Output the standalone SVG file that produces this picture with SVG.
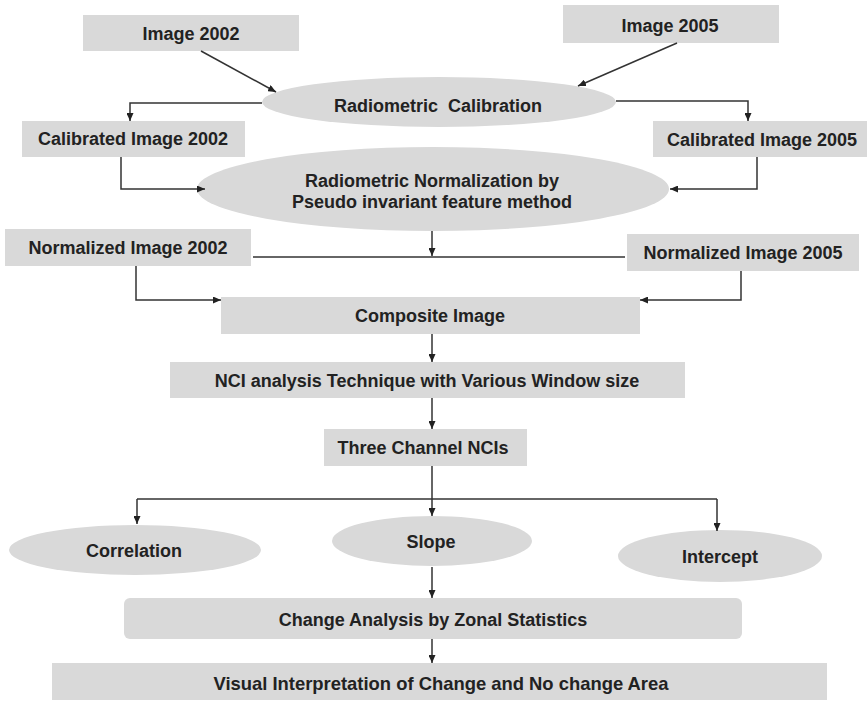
<svg xmlns="http://www.w3.org/2000/svg" width="867" height="701" viewBox="0 0 867 701">
  <style>
    .box { fill: #d9d9d9; }
    .lbl { font-family: "Liberation Sans", Arial, sans-serif; font-weight: bold; font-size: 18px; fill: #222; text-anchor: middle; }
    .wire { fill: none; stroke: #333; stroke-width: 1.5; }
    .arr { marker-end: url(#head); }
  </style>
  <defs>
    <marker id="head" markerUnits="userSpaceOnUse" markerWidth="8" markerHeight="7" refX="8" refY="3.5" orient="auto">
      <path d="M0,0 L8,3.5 L0,7 z" fill="#222"/>
    </marker>
  </defs>
  <rect width="867" height="701" fill="#fff"/>

  <g id="img2002">
    <rect class="box" x="83" y="15" width="216" height="36"/>
    <text class="lbl" x="191" y="40">Image 2002</text>
  </g>
  <g id="img2005">
    <rect class="box" x="563" y="5" width="216" height="38"/>
    <text class="lbl" x="670" y="32">Image 2005</text>
  </g>
  <g id="calibration">
    <ellipse class="box" cx="439" cy="102" rx="177" ry="25"/>
    <text class="lbl" x="438" y="112" xml:space="preserve">Radiometric  Calibration</text>
  </g>
  <g id="cal2002">
    <rect class="box" x="22" y="121" width="223" height="36"/>
    <text class="lbl" x="133" y="145">Calibrated Image 2002</text>
  </g>
  <g id="cal2005">
    <rect class="box" x="653" y="121" width="214" height="36"/>
    <text class="lbl" x="762" y="146">Calibrated Image 2005</text>
  </g>
  <g id="normalization">
    <ellipse class="box" cx="433" cy="189" rx="236" ry="42"/>
    <text class="lbl" x="432" y="187">Radiometric Normalization by</text>
    <text class="lbl" x="432" y="208">Pseudo invariant feature method</text>
  </g>
  <g id="norm2002">
    <rect class="box" x="5" y="229" width="246" height="37"/>
    <text class="lbl" x="128" y="254">Normalized Image 2002</text>
  </g>
  <g id="norm2005">
    <rect class="box" x="627" y="234" width="232" height="37"/>
    <text class="lbl" x="743" y="259">Normalized Image 2005</text>
  </g>
  <g id="composite">
    <rect class="box" x="221" y="297" width="419" height="37"/>
    <text class="lbl" x="430" y="322">Composite Image</text>
  </g>
  <g id="nci">
    <rect class="box" x="170" y="362" width="515" height="36"/>
    <text class="lbl" x="427" y="387">NCI analysis Technique with Various Window size</text>
  </g>
  <g id="channels">
    <rect class="box" x="324" y="429" width="203" height="37"/>
    <text class="lbl" x="423" y="454">Three Channel NCIs</text>
  </g>
  <g id="correlation">
    <ellipse class="box" cx="135" cy="550" rx="126" ry="25"/>
    <text class="lbl" x="134" y="557">Correlation</text>
  </g>
  <g id="slope">
    <ellipse class="box" cx="432" cy="541" rx="100" ry="25"/>
    <text class="lbl" x="431" y="548">Slope</text>
  </g>
  <g id="intercept">
    <ellipse class="box" cx="720" cy="556" rx="102" ry="26"/>
    <text class="lbl" x="720" y="563">Intercept</text>
  </g>
  <g id="zonal">
    <rect class="box" x="124" y="598" width="618" height="41" rx="6"/>
    <text class="lbl" x="433" y="626">Change Analysis by Zonal Statistics</text>
  </g>
  <g id="visual">
    <rect class="box" x="52" y="663" width="775" height="37"/>
    <text class="lbl" x="441" y="690" style="font-size:19px" textLength="455" lengthAdjust="spacingAndGlyphs">Visual Interpretation of Change and No change Area</text>
  </g>

  <g id="connectors">
    <path class="wire arr" d="M201,51 L276,92"/>
    <path class="wire arr" d="M677,43 L578,86"/>
    <path class="wire arr" d="M262,103 H130 V121"/>
    <path class="wire arr" d="M616,101 H748 V121"/>
    <path class="wire arr" d="M121,157 V189 H205"/>
    <path class="wire arr" d="M757,157 V189 H670"/>
    <path class="wire arr" d="M432,231 V256"/>
    <path class="wire" d="M253,257 H625"/>
    <path class="wire arr" d="M136,266 V300 H221"/>
    <path class="wire arr" d="M741,271 V300 H640"/>
    <path class="wire arr" d="M432,334 V362"/>
    <path class="wire arr" d="M432,398 V429"/>
    <path class="wire arr" d="M432,466 V516"/>
    <path class="wire" d="M137,499 H717"/>
    <path class="wire arr" d="M137,499 V524"/>
    <path class="wire arr" d="M717,499 V531"/>
    <path class="wire arr" d="M432,567 V598"/>
    <path class="wire arr" d="M432,639 V663"/>
  </g>
</svg>
